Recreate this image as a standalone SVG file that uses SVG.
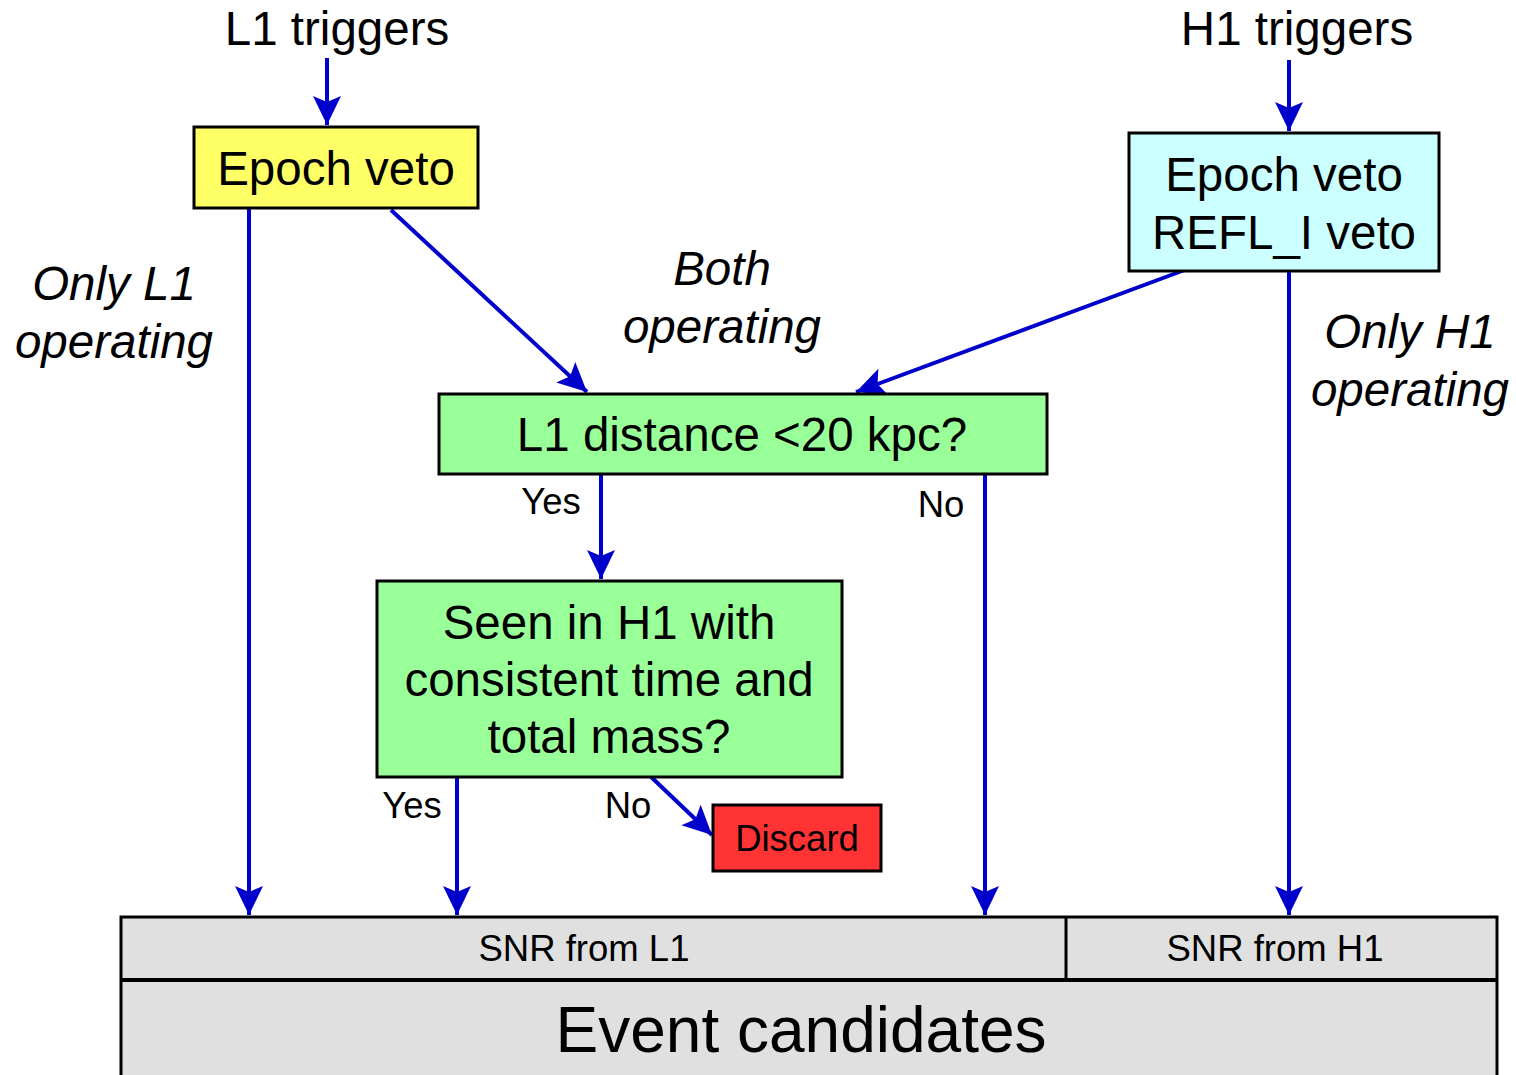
<svg xmlns="http://www.w3.org/2000/svg" width="1516" height="1075" viewBox="0 0 1516 1075">
<style>
text{font-family:"Liberation Sans",Arial,sans-serif;fill:#000;text-anchor:middle}
.big{font-size:47.5px}
.it{font-size:47.5px;font-style:italic}
.sm{font-size:36.5px}
.box{stroke:#000;stroke-width:3}
.c{stroke:#0000CC;stroke-width:4;fill:none;marker-end:url(#ah)}
</style>
<defs>
<marker id="ah" markerUnits="userSpaceOnUse" markerWidth="30" markerHeight="30" viewBox="0 0 30 30" refX="29" refY="15" orient="auto">
<path d="M0,1 L29,15 L0,29 L6,15 Z" fill="#0000CC"/>
</marker>
</defs>
<rect width="1516" height="1075" fill="#fff"/>
<g id="connectors">
<line class="c" x1="327" y1="58" x2="327" y2="125"/>
<line class="c" x1="1289" y1="60" x2="1289" y2="131"/>
<line class="c" x1="249" y1="208" x2="249" y2="915"/>
<line class="c" x1="391" y1="210" x2="587" y2="392"/>
<line class="c" x1="1190" y1="268" x2="856" y2="392"/>
<line class="c" x1="601" y1="474" x2="601" y2="579"/>
<line class="c" x1="985" y1="474" x2="985" y2="915"/>
<line class="c" x1="1289" y1="271" x2="1289" y2="915"/>
<line class="c" x1="457" y1="777" x2="457" y2="915"/>
<line class="c" x1="648" y1="774" x2="712" y2="835"/>
</g>
<g id="label-l1trig"><text class="big" x="337" y="45">L1 triggers</text></g>
<g id="label-h1trig"><text class="big" x="1297" y="45">H1 triggers</text></g>
<g id="label-onlyl1"><text class="it" x="114" y="300">Only L1</text><text class="it" x="114" y="358">operating</text></g>
<g id="label-both"><text class="it" x="722" y="285">Both</text><text class="it" x="722" y="343">operating</text></g>
<g id="label-onlyh1"><text class="it" x="1410" y="348">Only H1</text><text class="it" x="1410" y="406">operating</text></g>
<g id="node-l1veto"><rect class="box" x="194" y="127" width="284" height="81" fill="#FFFF66"/><text class="big" x="336" y="185">Epoch veto</text></g>
<g id="node-h1veto"><rect class="box" x="1129" y="133" width="310" height="138" fill="#CCFFFF"/><text class="big" x="1284" y="191">Epoch veto</text><text class="big" x="1284" y="249">REFL_I veto</text></g>
<g id="node-distance"><rect class="box" x="439" y="394" width="608" height="80" fill="#99FF99"/><text class="big" x="742" y="451">L1 distance &lt;20 kpc?</text></g>
<g id="label-yes1"><text class="sm" x="551" y="514">Yes</text></g>
<g id="label-no1"><text class="sm" x="941" y="517">No</text></g>
<g id="node-seen"><rect class="box" x="377" y="581" width="465" height="196" fill="#99FF99"/><text class="big" x="609" y="639">Seen in H1 with</text><text class="big" x="609" y="696">consistent time and</text><text class="big" x="609" y="753">total mass?</text></g>
<g id="label-yes2"><text class="sm" x="412" y="818">Yes</text></g>
<g id="label-no2"><text class="sm" x="628" y="818">No</text></g>
<g id="node-discard"><rect class="box" x="713" y="805" width="168" height="66" fill="#FF3333"/><text class="sm" x="797" y="851">Discard</text></g>
<g id="node-events">
<rect class="box" x="121" y="917" width="1376" height="170" fill="#E0E0E0"/>
<line x1="121" y1="980" x2="1497" y2="980" stroke="#000" stroke-width="4"/>
<line x1="1066" y1="917" x2="1066" y2="980" stroke="#000" stroke-width="3"/>
<text class="sm" x="584" y="961">SNR from L1</text>
<text class="sm" x="1275" y="961">SNR from H1</text>
<text x="801" y="1052" style="font-size:64px">Event candidates</text>
</g>
</svg>
